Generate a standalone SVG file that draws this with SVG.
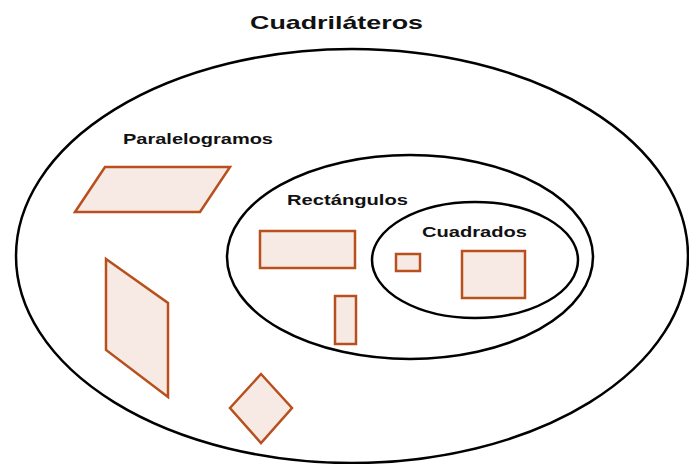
<svg xmlns="http://www.w3.org/2000/svg" width="689" height="464" viewBox="0 0 689 464">
<style>
.set{fill:none;stroke:#000;stroke-width:2.5}
.shp{fill:#F7EAE5;stroke:#B8501E;stroke-width:2.5;stroke-linejoin:miter}
.lbl{font-family:"Liberation Sans",Arial,sans-serif;font-weight:bold;fill:#111}
</style>
<rect width="689" height="464" fill="#fff"/>
<g id="title"><text class="lbl" x="250" y="29" font-size="19" textLength="173" lengthAdjust="spacingAndGlyphs">Cuadriláteros</text></g>
<g id="cuadrilateros"><ellipse class="set" cx="352" cy="256" rx="336" ry="207"/></g>
<g id="paralelogramos">
<text class="lbl" x="123" y="144" font-size="15" textLength="150" lengthAdjust="spacingAndGlyphs">Paralelogramos</text>
<polygon class="shp" points="75,212 105,167 230,167 200,212"/>
<polygon class="shp" points="106,259 168,303 168,397 106,350"/>
<polygon class="shp" points="261,374 292,408 261,443 230,408"/>
</g>
<g id="rectangulos">
<ellipse class="set" cx="410" cy="257" rx="183" ry="102"/>
<text class="lbl" x="287" y="205" font-size="15.5" textLength="121" lengthAdjust="spacingAndGlyphs">Rectángulos</text>
<rect class="shp" x="260" y="231" width="95" height="37"/>
<rect class="shp" x="335" y="296" width="21" height="48"/>
</g>
<g id="cuadrados">
<ellipse class="set" cx="475" cy="260" rx="103" ry="58"/>
<text class="lbl" x="422" y="237" font-size="15.5" textLength="105" lengthAdjust="spacingAndGlyphs">Cuadrados</text>
<rect class="shp" x="396" y="254" width="24" height="17"/>
<rect class="shp" x="462" y="251" width="63" height="47"/>
</g>
<g id="connectors"></g>
</svg>
